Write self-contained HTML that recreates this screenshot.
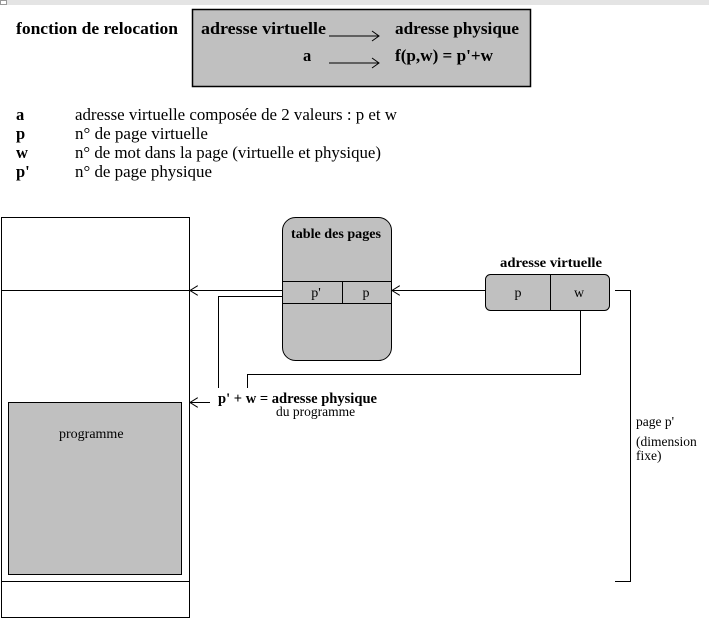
<!DOCTYPE html>
<html><head><meta charset="utf-8"><style>
body{margin:0;background:#fff;width:709px;height:620px;overflow:hidden}
svg{display:block}
text{font-family:"Liberation Serif",serif;fill:#000}
.b{font-weight:bold}
</style></head><body>
<svg width="709" height="620" viewBox="0 0 709 620" xmlns="http://www.w3.org/2000/svg">
<defs>
<marker id="ah" markerWidth="10" markerHeight="10" refX="8" refY="5" orient="auto" markerUnits="userSpaceOnUse">
<path d="M0,0 L8,5 L0,10" fill="none" stroke="#000" stroke-width="1"/>
</marker>
</defs>
<rect x="0" y="0" width="709" height="5" fill="#e4e4e4"/>
<rect x="0.5" y="0.5" width="6" height="4" fill="#fff" stroke="#999"/>
<text x="16" y="34" class="b" font-size="16.5" textLength="162" lengthAdjust="spacingAndGlyphs">fonction de relocation</text>
<rect x="192.5" y="9.5" width="338" height="77" fill="#c0c0c0" stroke="#000" stroke-width="1.5"/>
<text x="201" y="34" class="b" font-size="16.5" textLength="125" lengthAdjust="spacingAndGlyphs">adresse virtuelle</text>
<text x="395" y="34" class="b" font-size="16.5" textLength="124" lengthAdjust="spacingAndGlyphs">adresse physique</text>
<text x="303" y="61" class="b" font-size="16.5">a</text>
<text x="395" y="61" class="b" font-size="16.5" textLength="98" lengthAdjust="spacingAndGlyphs">f(p,w) = p'+w</text>
<line x1="329" y1="36" x2="379" y2="36" stroke="#000"/><path d="M372,31 L379,36 L372,41" fill="none" stroke="#000"/>
<line x1="329" y1="63" x2="379" y2="63" stroke="#000"/><path d="M372,58 L379,63 L372,68" fill="none" stroke="#000"/>
<g font-size="16.5">
<text x="16" y="120" class="b">a</text><text x="75" y="120" textLength="322" lengthAdjust="spacingAndGlyphs">adresse virtuelle composée de 2 valeurs : p et w</text>
<text x="16" y="139" class="b">p</text><text x="75" y="139" textLength="133" lengthAdjust="spacingAndGlyphs">n° de page virtuelle</text>
<text x="16" y="158" class="b">w</text><text x="75" y="158" textLength="306" lengthAdjust="spacingAndGlyphs">n° de mot dans la page (virtuelle et physique)</text>
<text x="16" y="177" class="b">p'</text><text x="75" y="177" textLength="137" lengthAdjust="spacingAndGlyphs">n° de page physique</text>
</g>
<g stroke="#000" fill="none">
<rect x="1.5" y="217.5" width="188" height="400" fill="#fff"/>
<line x1="1.5" y1="290.5" x2="189.5" y2="290.5"/>
<line x1="1.5" y1="581.5" x2="189.5" y2="581.5"/>
<rect x="8.5" y="402.5" width="173" height="172" fill="#c0c0c0"/>
<rect x="282.5" y="217.5" width="109" height="143" rx="13" fill="#c0c0c0"/>
<line x1="282.5" y1="281.5" x2="391.5" y2="281.5"/>
<line x1="282.5" y1="303.5" x2="391.5" y2="303.5"/>
<line x1="342.5" y1="281.5" x2="342.5" y2="303.5"/>
<rect x="485.5" y="274.5" width="124" height="36" rx="5" fill="#c0c0c0"/>
<line x1="550.5" y1="274.5" x2="550.5" y2="310.5"/>
<line x1="485" y1="290.5" x2="392" y2="290.5" marker-end="url(#ah)"/>
<line x1="282" y1="290.5" x2="190" y2="290.5" marker-end="url(#ah)"/>
<polyline points="282,296.5 218.5,296.5 218.5,388"/>
<polyline points="580.5,310 580.5,374.5 247.5,374.5 247.5,388"/>
<line x1="210" y1="402.5" x2="190" y2="402.5" marker-end="url(#ah)"/>
<polyline points="615,290.5 630.5,290.5 630.5,581.5 615,581.5"/>
</g>
<text x="291" y="238" class="b" font-size="14" textLength="90" lengthAdjust="spacingAndGlyphs">table des pages</text>
<text x="316" y="297" font-size="14" text-anchor="middle">p'</text>
<text x="366" y="297" font-size="14" text-anchor="middle">p</text>
<text x="500" y="267" class="b" font-size="14" textLength="102" lengthAdjust="spacingAndGlyphs">adresse virtuelle</text>
<text x="518" y="297" font-size="14" text-anchor="middle">p</text>
<text x="579" y="297" font-size="14" text-anchor="middle">w</text>
<text x="218" y="403" class="b" font-size="14.5" textLength="159" lengthAdjust="spacingAndGlyphs">p' + w  = adresse physique</text>
<text x="276" y="416" font-size="13.5">du programme</text>
<text x="59" y="438" font-size="14">programme</text>
<text x="636" y="426" font-size="13.5">page p'</text>
<text x="636" y="446" font-size="13.5">(dimension</text>
<text x="636" y="460" font-size="13.5">fixe)</text>
</svg>
</body></html>
